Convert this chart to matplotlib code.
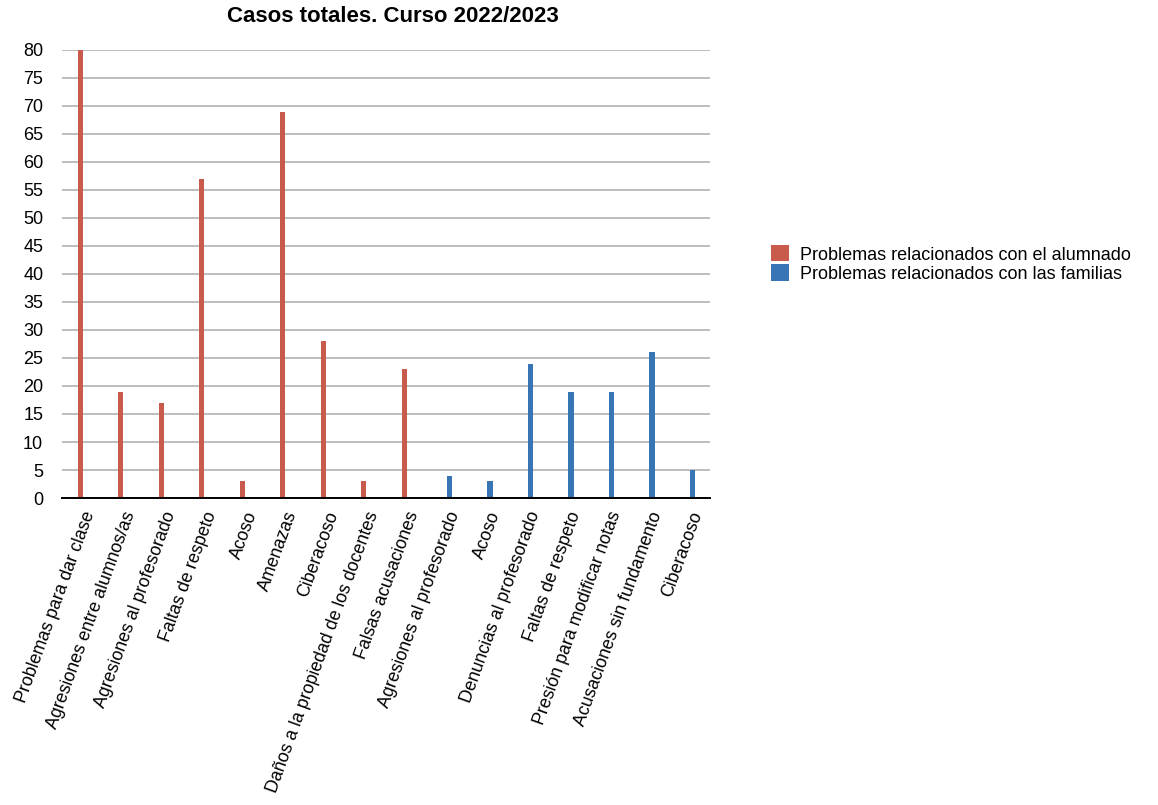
import matplotlib
matplotlib.use("Agg")
from matplotlib import pyplot as plt
import numpy as np

plt.rcParams["font.family"] = ["Liberation Sans", "DejaVu Sans"]

categories = [
    "Problemas para dar clase",
    "Agresiones entre alumnos/as",
    "Agresiones al profesorado",
    "Faltas de respeto",
    "Acoso",
    "Amenazas",
    "Ciberacoso",
    "Daños a la propiedad de los docentes",
    "Falsas acusaciones",
    "Agresiones al profesorado",
    "Acoso",
    "Denuncias al profesorado",
    "Faltas de respeto",
    "Presión para modificar notas",
    "Acusaciones sin fundamento",
    "Ciberacoso",
]
alumnado = [80, 19, 17, 57, 3, 69, 28, 3, 23, 0, 0, 0, 0, 0, 0, 0]
familias = [0, 0, 0, 0, 0, 0, 0, 0, 0, 4, 3, 24, 19, 19, 26, 5]
series_names = ["Problemas relacionados con el alumnado",
                "Problemas relacionados con las familias"]
title = "Casos totales. Curso 2022/2023"

red = "#C85B4B"
blue = "#3775B5"

fig = plt.figure(figsize=(11.58, 8.05), dpi=100)
ax = fig.add_axes([62 / 1158, 1 - 498 / 805, 648 / 1158, 448 / 805])

x = np.arange(len(categories))
w = 0.13
ax.bar(x - 0.05, alumnado, w, color=red, label=series_names[0], zorder=3)
ax.bar(x + 0.07, familias, w, color=blue, label=series_names[1], zorder=3)

ax.set_xlim(-0.5, len(categories) - 0.5)
ax.set_ylim(0, 80)
ax.set_yticks(range(0, 81, 5))
ax.yaxis.grid(True, color="#ABABAB", linewidth=1.1, zorder=0)
ax.set_axisbelow(True)
for side in ["top", "right", "left"]:
    ax.spines[side].set_visible(False)
ax.spines["bottom"].set_color("black")
ax.spines["bottom"].set_linewidth(1.4)
ax.spines["bottom"].set_zorder(4)

ax.set_xticks(x)
ax.set_xticklabels(categories, rotation=70, ha="right", rotation_mode="anchor",
                   fontsize=12.8)
ax.tick_params(axis="x", length=0, pad=8)
ax.tick_params(axis="y", length=0, pad=13.5, labelsize=13)

fig.text(393 / 1158, 1 - 17 / 805, title, ha="center", va="center",
         fontsize=16, fontweight="bold")

fig.legend(loc="center left", bbox_to_anchor=(755 / 1158, 1 - 264 / 805),
           frameon=False, fontsize=13, handlelength=1.0, handleheight=1.0,
           handletextpad=0.6, labelspacing=0.05)

fig.savefig("out.png", dpi=100)
